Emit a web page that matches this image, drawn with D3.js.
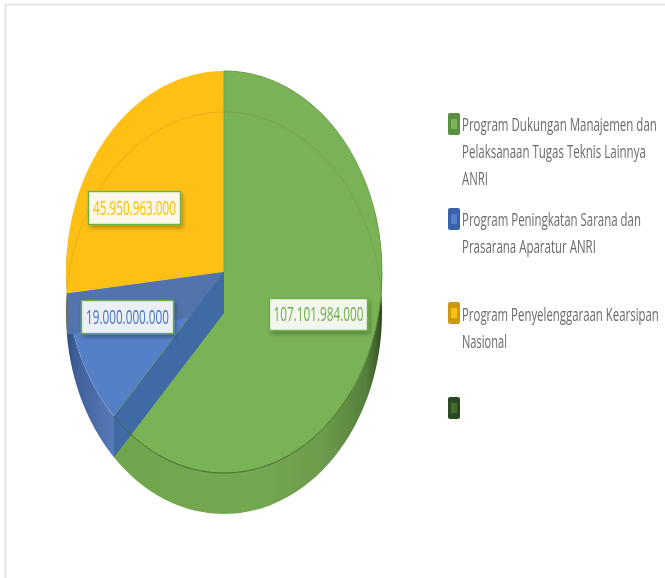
<!DOCTYPE html>
<html>
<head>
<meta charset="utf-8">
<script src="https://cdn.jsdelivr.net/npm/d3@7"></script>
<style>
html,body{margin:0;padding:0;background:#fff;overflow:hidden}
svg{display:block}
text{font-family:"Liberation Sans Narrow","Open Sans","Noto Sans",sans-serif}
</style>
</head>
<body>
<svg id="chart" width="665" height="578"></svg>
<script>
// --- data ---
const categories = [
  ["Program Dukungan Manajemen dan", "Pelaksanaan Tugas Teknis Lainnya", "ANRI"],
  ["Program Peningkatan Sarana dan", "Prasarana Aparatur ANRI"],
  ["Program Penyelenggaraan Kearsipan", "Nasional"],
  [""]
];
const values = [107101984000, 19000000000, 45950963000, 0];
const valueLabels = ["107.101.984.000", "19.000.000.000", "45.950.963.000", ""];
const faceColors = ["#7ab356", "#5580c8", "#ffc016", "#456b30"];
const keyEdgeColors = ["#5b8f3f", "#3a62ab", "#cc9a10", "#2c4a20"];
const labelColors = ["#70ad47", "#4472c4", "#ffc000", "#70ad47"];
const labelFills = ["#f1f6ee", "#ecf0f5", "#faf6e8", "#fff"];

// --- layout ---
const W = 665, H = 578;
const cx = 224, cyTop = 272, depth = 41, rx = 158, ry = 201;
const labelBoxes = [[269, 298, 98, 32], [81, 300, 92, 33], [88, 191, 92, 33]];
const labelTextW = [90, 83, 83];
const labelFont = 20;
const legendFont = 18;
const legendKeyY = [113, 208, 302, 397];
const legendLineY = [[131, 158, 185], [226, 253], [321, 348], []];
const legendLineW = [[195, 184, 26], [179, 134], [197, 45], [0]];

const svg = d3.select("#chart");
const defs = svg.append("defs");

function hGrad(id, stops) {
  const g = defs.append("linearGradient").attr("id", id).attr("gradientUnits", "userSpaceOnUse")
    .attr("x1", cx - rx).attr("x2", cx + rx).attr("y1", 0).attr("y2", 0);
  stops.forEach(s => g.append("stop").attr("offset", s[0]).attr("stop-color", s[1]));
}
hGrad("wallGreen", [[0, "#70a54e"], [0.6, "#73a851"], [0.82, "#6c9b4c"], [0.95, "#557f3b"], [0.985, "#3e5f2a"], [1, "#2b4420"]]);
hGrad("wallBlue", [[0, "#2c4a7c"], [0.03, "#3f5f98"], [0.14, "#5578b6"], [0.3, "#4f74b5"], [1, "#4f74b5"]]);

const shadow = defs.append("filter").attr("id", "shadow")
  .attr("x", "-20%").attr("y", "-30%").attr("width", "140%").attr("height", "170%");
shadow.append("feDropShadow").attr("dx", 2).attr("dy", 3).attr("stdDeviation", 2)
  .attr("flood-color", "#000").attr("flood-opacity", 0.28);
const soft = defs.append("filter").attr("id", "soft");
soft.append("feGaussianBlur").attr("stdDeviation", 0.35);

// frame
svg.append("path").attr("d", d3.line()([[5.5, H], [5.5, 4.5], [W, 4.5]]))
  .attr("fill", "none").attr("stroke", "#e4e4e4").attr("stroke-width", 2);

// pie geometry through d3
const arcs = d3.pie().sort(null).value(d => d)(values);
const wedge = d3.arc().innerRadius(0).outerRadius(rx);
const ky = ry / rx;
const pt = (a, cy) => [cx + rx * Math.sin(a), cy - ry * Math.cos(a)];
const curve = (a0, a1, cy) => d3.range(0, 73).map(i => pt(a0 + (a1 - a0) * i / 72, cy));
const line = d3.line();
const wall = (a0, a1) => line(curve(a0, a1, cyTop).concat(curve(a1, a0, cyTop + depth))) + "Z";
const radialBand = a => line([[cx, cyTop], pt(a, cyTop), pt(a, cyTop + depth), [cx, cyTop + depth]]) + "Z";
const face = d => svg.append("path")
  .attr("transform", `translate(${cx},${cyTop}) scale(1,${ky})`)
  .attr("d", wedge(d));

const [green, blue, yellow] = arcs;

// outer walls
svg.append("path").attr("d", wall(yellow.startAngle, yellow.startAngle + 0.2)).attr("fill", "#6d5f1c");
svg.append("path").attr("d", wall(blue.startAngle, blue.endAngle)).attr("fill", "url(#wallBlue)");
svg.append("path").attr("d", wall(Math.PI / 2 - 0.3, green.endAngle)).attr("fill", "url(#wallGreen)");

// top faces
face(yellow).attr("fill", faceColors[2]);
face(blue).attr("fill", faceColors[1]);
face(green).attr("fill", faceColors[0]).attr("stroke", "#6a9f47").attr("stroke-width", 0.8);

// inner radial walls seen through the translucent top
svg.append("path").attr("d", radialBand(yellow.startAngle)).attr("fill", "#5273ab");
svg.append("path").attr("d", radialBand(green.endAngle)).attr("fill", "#3f6aa5");

// faint rim arcs
svg.append("path").attr("d", line(curve(-Math.PI / 2, Math.PI / 2, cyTop + depth)))
  .attr("fill", "none").attr("stroke", "#5a5a20").attr("stroke-opacity", 0.16);
svg.append("path").attr("d", line(curve(Math.PI / 2, 2.2, cyTop)))
  .attr("fill", "none").attr("stroke", "#4a7a30").attr("stroke-opacity", 0.4);
svg.append("path").attr("d", line(curve(2.2, green.endAngle, cyTop)))
  .attr("fill", "none").attr("stroke", "#3f6a2a").attr("stroke-opacity", 0.85);

// squeeze a text horizontally to a target width, around its anchor x
function fit(sel, x, y, w) {
  const natural = sel.node().getComputedTextLength();
  sel.attr("transform", `translate(${x},${y}) scale(${w / natural},1)`);
}

// value labels
labelBoxes.forEach((b, i) => {
  const g = svg.append("g");
  g.append("rect").attr("x", b[0] + 0.5).attr("y", b[1] + 0.5).attr("width", b[2]).attr("height", b[3])
    .attr("fill", labelFills[i]).attr("stroke", "#70ad47").attr("stroke-width", 1.4)
    .attr("filter", "url(#shadow)");
  const t = g.append("text").attr("text-anchor", "middle").attr("font-size", labelFont)
    .attr("fill", labelColors[i]).attr("filter", "url(#soft)")
    .text(valueLabels[i]);
  fit(t, b[0] + b[2] / 2 + 0.5, b[1] + b[3] / 2 + 7, labelTextW[i]);
});

// legend
categories.forEach((lines, i) => {
  const y = legendKeyY[i];
  const g = svg.append("g");
  g.append("rect").attr("x", 448).attr("y", y).attr("width", 12).attr("height", 22).attr("rx", 2)
    .attr("fill", keyEdgeColors[i]);
  g.append("rect").attr("x", 451).attr("y", y + 6).attr("width", 6).attr("height", 10)
    .attr("fill", faceColors[i]);
  lines.forEach((t, j) => {
    if (!t) return;
    const s = g.append("text").attr("font-size", legendFont).attr("fill", "#6a6a6a")
      .attr("filter", "url(#soft)")
      .text(t);
    fit(s, 462, legendLineY[i][j], legendLineW[i][j]);
  });
});
</script>
</body>
</html>
